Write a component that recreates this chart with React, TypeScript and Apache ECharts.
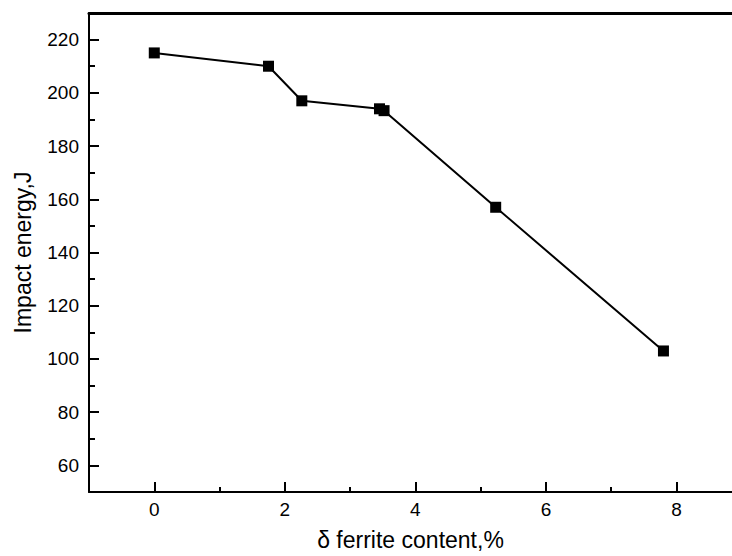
import React, { useEffect, useRef } from "react";
import * as echarts from "echarts";

const ferriteContent = [0, 1.75, 2.26, 3.45, 3.52, 5.23, 7.8];
const impactEnergy = [215, 210, 197, 194, 193.3, 157, 103];
const xMajorTicks = [0, 2, 4, 6, 8];
const xMinorTicks = [1, 3, 5, 7];
const yMajorTicks = [60, 80, 100, 120, 140, 160, 180, 200, 220];
const yMinorTicks = [70, 90, 110, 130, 150, 170, 190, 210];

const FONT = "'Liberation Sans', Arial, Helvetica, sans-serif";
const X_MIN = -1;
const X_MAX = 8.85;

export default function App() {
  const ref = useRef<HTMLDivElement>(null);
  useEffect(() => {
    if (!ref.current) return;
    const chart = echarts.init(ref.current, null, { renderer: "svg" });
    const axisLineStyle = { color: "#000", width: 2 };
    chart.setOption({
      animation: false,
      backgroundColor: "#fff",
      grid: {
        left: 89,
        top: 13,
        bottom: 59,
        right: 0,
        show: false,
        containLabel: false,
      },
      xAxis: [
        {
          type: "value",
          min: X_MIN,
          max: X_MAX,
          position: "bottom",
          name: "δ ferrite content,%",
          nameLocation: "middle",
          nameGap: 36,
          nameTextStyle: { fontFamily: FONT, fontSize: 23, color: "#000" },
          axisLine: { show: true, onZero: false, lineStyle: axisLineStyle },
          axisTick: {
            show: true,
            inside: true,
            length: 10,
            customValues: xMajorTicks,
            lineStyle: { color: "#000", width: 2 },
          },
          axisLabel: {
            customValues: xMajorTicks,
            fontFamily: FONT,
            fontSize: 19,
            color: "#000",
            margin: 8,
          },
          splitLine: { show: false },
        },
        {
          type: "value",
          min: X_MIN,
          max: X_MAX,
          position: "bottom",
          axisLine: { show: false, onZero: false },
          axisTick: {
            show: true,
            inside: true,
            length: 5,
            customValues: xMinorTicks,
            lineStyle: { color: "#000", width: 2 },
          },
          axisLabel: { show: false },
          splitLine: { show: false },
        },
        {
          type: "value",
          min: X_MIN,
          max: X_MAX,
          position: "top",
          axisLine: { show: true, onZero: false, lineStyle: { color: "#000", width: 3 } },
          axisTick: { show: false },
          axisLabel: { show: false },
          splitLine: { show: false },
        },
      ],
      yAxis: [
        {
          type: "value",
          min: 50,
          max: 230,
          position: "left",
          name: "Impact energy,J",
          nameLocation: "middle",
          nameGap: 55,
          nameTextStyle: { fontFamily: FONT, fontSize: 23, color: "#000" },
          axisLine: { show: true, onZero: false, lineStyle: axisLineStyle },
          axisTick: {
            show: true,
            inside: true,
            length: 10,
            customValues: yMajorTicks,
            lineStyle: { color: "#000", width: 2 },
          },
          axisLabel: {
            customValues: yMajorTicks,
            fontFamily: FONT,
            fontSize: 19,
            color: "#000",
            margin: 10,
          },
          splitLine: { show: false },
        },
        {
          type: "value",
          min: 50,
          max: 230,
          position: "left",
          axisLine: { show: false, onZero: false },
          axisTick: {
            show: true,
            inside: true,
            length: 6,
            customValues: yMinorTicks,
            lineStyle: { color: "#000", width: 2 },
          },
          axisLabel: { show: false },
          splitLine: { show: false },
        },
      ],
      series: [
        {
          type: "line",
          xAxisIndex: 0,
          yAxisIndex: 0,
          data: ferriteContent.map((x, i) => [x, impactEnergy[i]]),
          symbol: "rect",
          symbolSize: 11,
          itemStyle: { color: "#000" },
          lineStyle: { color: "#000", width: 2 },
        },
      ],
    });
    return () => chart.dispose();
  }, []);
  return (
    <div
      ref={ref}
      style={{ position: "absolute", left: 0, top: 0, width: 732, height: 556 }}
    />
  );
}
